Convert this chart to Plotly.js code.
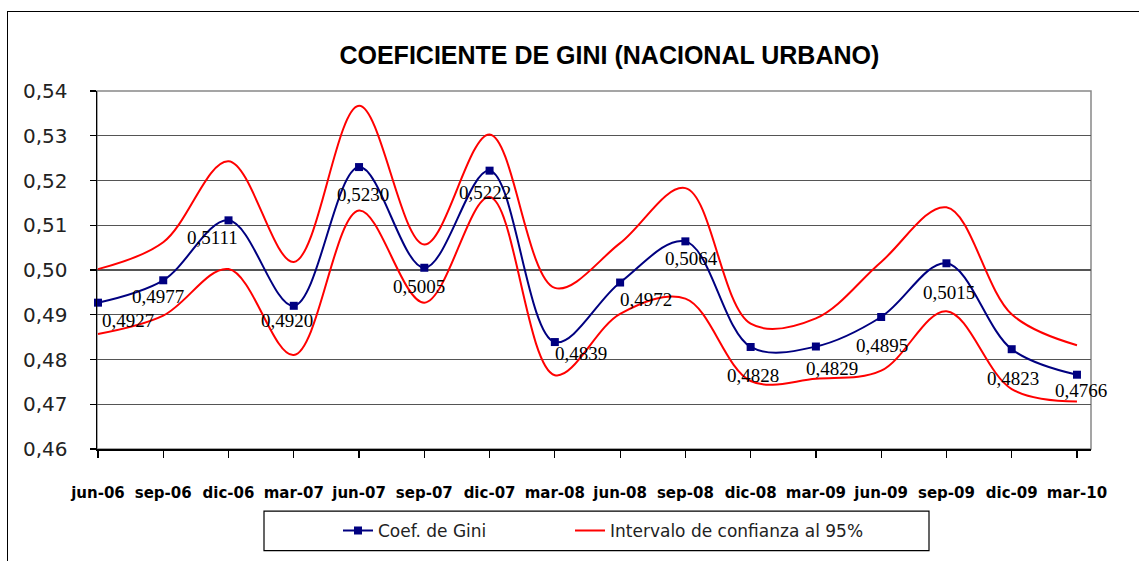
<!DOCTYPE html>
<html>
<head>
<meta charset="utf-8">
<script src="https://cdn.plot.ly/plotly-3.0.1.min.js"></script>
<style>
  html, body { margin: 0; padding: 0; background: #fff; overflow: hidden; }
  #wrap { position: relative; width: 1139px; height: 561px; }
  #chart { width: 1139px; height: 561px; }
  #frame { position: absolute; left: 7px; top: 11px; width: 1200px; height: 600px;
           border-left: 1.5px solid #000; border-top: 1.5px solid #000; pointer-events: none; }
</style>
</head>
<body>
<div id="wrap">
  <div id="chart"></div>
  <div id="frame"></div>
</div>
<script>
// ---- data ----
const periods = ["jun-06","sep-06","dic-06","mar-07","jun-07","sep-07","dic-07","mar-08",
                 "jun-08","sep-08","dic-08","mar-09","jun-09","sep-09","dic-09","mar-10"];
const gini  = [0.4927,0.4977,0.5111,0.4920,0.5230,0.5005,0.5222,0.4839,
               0.4972,0.5064,0.4828,0.4829,0.4895,0.5015,0.4823,0.4766];
const upper = [0.5002,0.5062,0.5243,0.5018,0.5367,0.5057,0.5303,0.4960,
               0.5060,0.5183,0.4880,0.4892,0.5018,0.5140,0.4901,0.4832];
const lower = [0.4857,0.4898,0.5002,0.4810,0.5133,0.4927,0.5163,0.4765,
               0.4902,0.4936,0.4752,0.4757,0.4775,0.4908,0.4734,0.4706];
const yTicks = [0.46,0.47,0.48,0.49,0.50,0.51,0.52,0.53,0.54];

// label placement (pixel offsets from marker, style only)
const labelDx = [30,-5,-16,-7,4,-5,-5,26,26,6,2,16,1,3,1,4];
const labelDy = [18,16,17,15,27,19,22,11,17,17,29,22,29,29,29,16];

const fmt = v => v.toFixed(4).replace('.', ',');

const traces = [
  { x: periods, y: upper, type: 'scatter', mode: 'lines', name: 'Intervalo de confianza al 95%',
    line: { color: '#ff0000', width: 2, shape: 'spline', smoothing: 1 }, legend: 'legend2', cliponaxis: false },
  { x: periods, y: lower, type: 'scatter', mode: 'lines', name: 'Intervalo de confianza al 95%',
    line: { color: '#ff0000', width: 2, shape: 'spline', smoothing: 1 }, showlegend: false, cliponaxis: false },
  { x: periods, y: gini, type: 'scatter', mode: 'lines+markers', name: 'Coef. de Gini',
    line: { color: '#000080', width: 2, shape: 'spline', smoothing: 1 },
    marker: { symbol: 'square', size: 8, color: '#000080' }, legend: 'legend', cliponaxis: false }
];

const annotations = gini.map((v, i) => ({
  x: periods[i], y: v, xref: 'x', yref: 'y', text: fmt(v), showarrow: false,
  xshift: labelDx[i], yshift: -labelDy[i],
  font: { family: 'Liberation Serif, serif', size: 19, color: '#000' }
}));

const legendFont = { family: 'DejaVu Sans, Verdana, sans-serif', size: 17, color: '#222' };

const layout = {
  width: 1139, height: 561,
  margin: { l: 97, r: 48, t: 91, b: 107 },
  paper_bgcolor: '#fff', plot_bgcolor: '#fff',
  separators: ',.',
  title: { text: 'COEFICIENTE DE GINI (NACIONAL URBANO)', x: 0.535, xref: 'container', xanchor: 'center',
           y: 1 - 55/561, yref: 'container', yanchor: 'middle',
           font: { family: 'Liberation Sans, Arial, sans-serif', size: 25, color: '#000', weight: 'bold' } },
  xaxis: { type: 'category', range: [-0.015, 15.215], showgrid: false, zeroline: false,
           showline: true, linecolor: '#000', linewidth: 1.5,
           ticks: 'outside', ticklen: 7, tickcolor: '#000', tickwidth: 1.2, ticklabelstandoff: 22,
           tickfont: { family: 'DejaVu Sans, Verdana, sans-serif', size: 15, color: '#000', weight: 'bold' } },
  yaxis: { range: [0.46, 0.54], tickvals: yTicks, tickformat: '.2f', showgrid: true,
           gridcolor: '#555', gridwidth: 1.3, zeroline: false,
           showline: true, linecolor: '#000', linewidth: 1.5,
           ticks: 'outside', ticklen: 6, tickcolor: '#000', tickwidth: 1.2, ticklabelstandoff: 18,
           tickfont: { family: 'DejaVu Sans, Verdana, sans-serif', size: 20, color: '#222' } },
  showlegend: true,
  legend: { orientation: 'h', x: (338 - 97) / 994, xanchor: 'left', y: (454 - 537) / 363, yanchor: 'middle',
            bgcolor: 'rgba(0,0,0,0)', borderwidth: 0, font: legendFont },
  legend2: { orientation: 'h', x: (570 - 97) / 994, xanchor: 'left', y: (454 - 537) / 363, yanchor: 'middle',
            bgcolor: 'rgba(0,0,0,0)', borderwidth: 0, font: legendFont },
  shapes: [
    { type: 'rect', xref: 'paper', yref: 'paper', x0: 0, x1: 1, y0: 0, y1: 1,
      line: { color: '#888', width: 1.5 }, layer: 'between' },
    { type: 'rect', xref: 'paper', yref: 'paper',
      x0: (264 - 97) / 994, x1: (929 - 97) / 994, y0: (454 - 557) / 363, y1: (454 - 517) / 363,
      line: { color: '#000', width: 1.2 }, fillcolor: 'rgba(0,0,0,0)', layer: 'above' }
  ],
  annotations: annotations
};

Plotly.newPlot('chart', traces, layout, { displayModeBar: false, staticPlot: true });
</script>
</body>
</html>
